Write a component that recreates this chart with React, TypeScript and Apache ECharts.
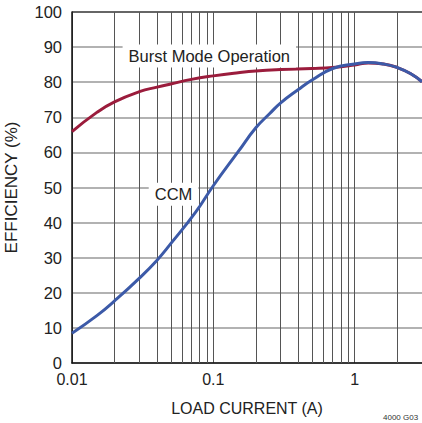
import React, { useEffect, useRef } from "react";
import * as echarts from "echarts";

const burstX = [0.01, 0.015, 0.02, 0.03, 0.04, 0.05, 0.07, 0.1, 0.15, 0.2, 0.3, 0.5, 0.7, 1.0, 1.25, 1.6, 2, 2.5, 3];
const burstY = [65.9, 71.4, 74.4, 77.3, 78.6, 79.5, 80.8, 81.8, 82.7, 83.2, 83.6, 83.9, 84.2, 84.9, 85.5, 85.2, 84.2, 82.4, 80.1];

const ccmX = [0.01, 0.015, 0.02, 0.03, 0.04, 0.05, 0.075, 0.1, 0.15, 0.2, 0.25, 0.3, 0.4, 0.5, 0.7, 1.0, 1.25, 1.6, 2, 2.5, 3];
const ccmY = [8.5, 13.5, 17.7, 24.2, 29.3, 34.0, 43.0, 50.5, 60.2, 67.0, 71.0, 74.1, 77.9, 80.6, 83.9, 85.2, 85.6, 85.2, 84.2, 82.4, 80.1];

const minorGridX = [0.02, 0.03, 0.04, 0.05, 0.06, 0.07, 0.08, 0.09, 0.2, 0.3, 0.4, 0.5, 0.6, 0.7, 0.8, 0.9, 2];
const xTickLabels = ["0.01", "0.1", "1"];

const burstLabel = { text: "Burst Mode Operation", x: 0.0937, y: 87.5 };
const ccmLabel = { text: "CCM", x: 0.0523, y: 48.1 };

const FONT = "'Liberation Sans', Arial, sans-serif";

export default function App() {
  const ref = useRef<HTMLDivElement>(null);
  useEffect(() => {
    const chart = echarts.init(ref.current!, null, { renderer: "svg" });
    const ySplitColors = Array.from({ length: 11 }, (_, i) => (i === 10 ? "#333" : "#999"));
    const annot = (l: { text: string; x: number; y: number }) => ({
      coord: [l.x, l.y],
      symbol: "rect",
      symbolSize: 0,
      label: {
        show: true,
        position: "inside",
        formatter: l.text,
        fontFamily: FONT,
        fontSize: 16.5,
        color: "#222",
        backgroundColor: "#fff",
        padding: [3, 6, 3, 6],
      },
    });
    chart.setOption({
      animation: false,
      grid: { left: 72, top: 12, right: 0, bottom: 60, outerBoundsMode: "none", containLabel: false },
      xAxis: {
        type: "log",
        logBase: 10,
        min: 0.01,
        max: 3,
        name: "LOAD CURRENT (A)",
        nameLocation: "middle",
        nameGap: 37,
        nameTextStyle: { fontFamily: FONT, fontSize: 16, color: "#222" },
        axisLine: { show: true, lineStyle: { color: "#111", width: 1.5 } },
        axisTick: { show: false },
        axisLabel: {
          fontFamily: FONT,
          fontSize: 16,
          color: "#222",
          margin: 8,
          showMaxLabel: false,
          formatter: (v: number) => {
            const s = String(Number(v.toPrecision(3)));
            return xTickLabels.includes(s) ? s : "";
          },
        },
        splitLine: { show: true, lineStyle: { color: "#555", width: 1 } },
      },
      yAxis: {
        type: "value",
        min: 0,
        max: 100,
        interval: 10,
        name: "EFFICIENCY (%)",
        nameLocation: "middle",
        nameGap: 52,
        nameTextStyle: { fontFamily: FONT, fontSize: 17, color: "#222" },
        axisLine: { show: true, lineStyle: { color: "#111", width: 1.5 } },
        axisTick: { show: false },
        axisLabel: { fontFamily: FONT, fontSize: 16.5, color: "#222", margin: 10 },
        splitLine: { show: true, lineStyle: { color: ySplitColors, width: 1.5 } },
      },
      series: [
        {
          type: "line",
          data: burstX.map((x, i) => [x, burstY[i]]),
          smooth: 0.5,
          showSymbol: false,
          lineStyle: { color: "#9b1c3c", width: 3 },
          z: 3,
          markLine: {
            silent: true,
            symbol: "none",
            label: { show: false },
            lineStyle: { color: "#555", width: 1, type: "solid" },
            data: minorGridX.map((x) => ({ xAxis: x })),
            z: 1,
          },
          markPoint: {
            silent: true,
            data: [annot(burstLabel), annot(ccmLabel)],
          },
        },
        {
          type: "line",
          data: ccmX.map((x, i) => [x, ccmY[i]]),
          smooth: 0.5,
          showSymbol: false,
          lineStyle: { color: "#3c5aa8", width: 3 },
          z: 4,
        },
      ],
      graphic: [
        {
          type: "text",
          left: 383,
          top: 413,
          style: { text: "4000 G03", fontFamily: FONT, fontSize: 8, fill: "#333" },
        },
      ],
    });
    return () => chart.dispose();
  }, []);
  return (
    <div
      ref={ref}
      style={{ position: "fixed", left: 0, top: 0, width: 422, height: 423, background: "#fff" }}
    />
  );
}
